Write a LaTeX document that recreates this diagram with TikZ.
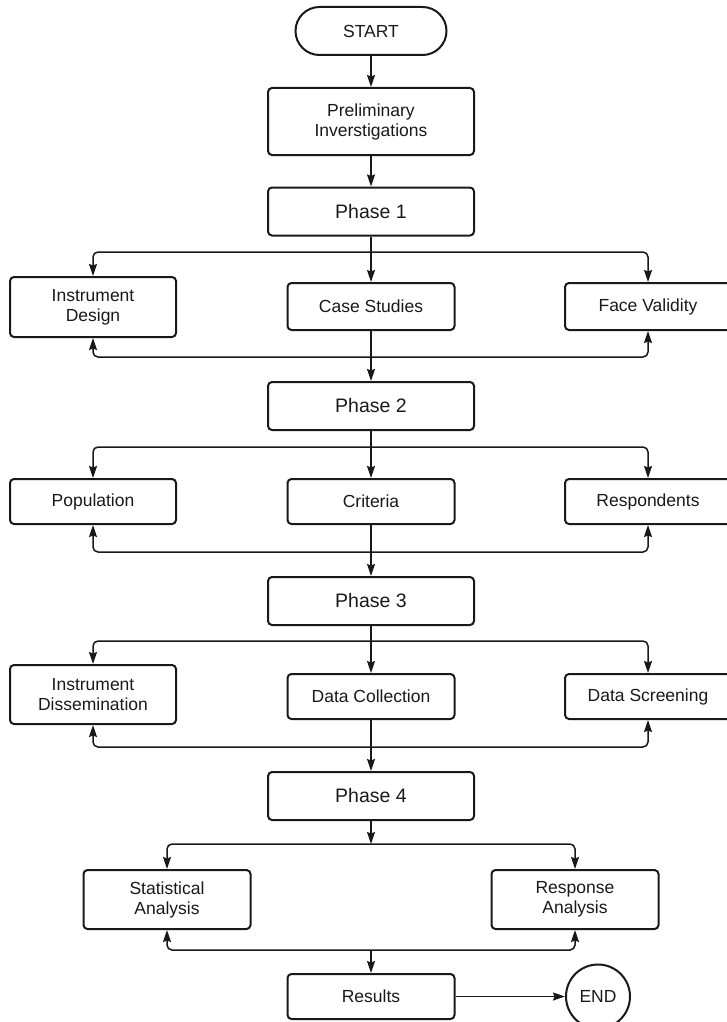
\documentclass[tikz,border=0pt]{standalone}
\usepackage{fontspec}
\setmainfont{Liberation Sans}
\usetikzlibrary{arrows.meta}
\begin{document}
\begin{tikzpicture}[x=1pt,y=-1pt,
  every node/.style={font=\fontsize{17.5}{20}\selectfont, text=black!90},
  box/.style={draw=black!90, line width=2pt, rounded corners=4pt, align=center, inner sep=0pt},
  midbox/.style={box, minimum width=167pt, minimum height=45pt},
  sidebox/.style={box, minimum width=166pt},
  phasebox/.style={box, minimum width=206pt, minimum height=48pt, font=\fontsize{19.5}{22}\selectfont},
  conn/.style={draw=black!90, line width=1.5pt, rounded corners=5pt, -{Stealth[length=12pt,width=8pt,inset=1.5pt]}}
]
\useasboundingbox (0,0) rectangle (726,1022);

\node[box, minimum width=151pt, minimum height=48pt, rounded corners=24pt] (start) at (371,31) {START};
\node[box, minimum width=206pt, minimum height=67pt] (prelim) at (371,121.5) {Preliminary\\Inverstigations};
\node[phasebox] (ph1) at (371,211.5) {Phase 1};

\node[sidebox, minimum height=60pt] (id) at (93,307) {Instrument\\Design};
\node[midbox, minimum height=47pt] (cs) at (371,306.5) {Case Studies};
\node[sidebox, minimum height=47pt] (fv) at (648,306.5) {Face Validity};

\node[phasebox] (ph2) at (371,406) {Phase 2};

\node[sidebox, minimum height=45pt] (pop) at (93,501.5) {Population};
\node[midbox] (cri) at (371,501.5) {Criteria};
\node[sidebox, minimum height=45pt] (resp) at (648,501.5) {Respondents};

\node[phasebox] (ph3) at (371,601) {Phase 3};

\node[sidebox, minimum height=59pt] (idis) at (93,694.5) {Instrument\\Dissemination};
\node[midbox] (dc) at (371,696.5) {Data Collection};
\node[sidebox, minimum height=45pt] (ds) at (648,696.5) {Data Screening};

\node[phasebox] (ph4) at (371,796) {Phase 4};

\node[box, minimum width=167pt, minimum height=59pt] (sa) at (167,899.5) {Statistical\\Analysis};
\node[box, minimum width=167pt, minimum height=59pt] (ra) at (575,899.5) {Response\\Analysis};

\node[midbox] (results) at (371,996.5) {Results};
\node[draw=black!90, line width=2pt, circle, minimum size=64pt, inner sep=0pt] (end) at (598,996.5) {END};

% coordinates for branch / return lines
\coordinate (b1) at (371,252);
\coordinate (r1) at (371,357);
\coordinate (b2) at (371,447);
\coordinate (r2) at (371,552);
\coordinate (b3) at (371,641);
\coordinate (r3) at (371,747);
\coordinate (b4) at (371,844);
\coordinate (r4) at (371,950);

\draw[conn] (start) -- (prelim);
\draw[conn] (prelim) -- (ph1);

% Phase 1
\draw[conn] (ph1.south) -- (cs.north);
\draw[conn] (b1) -| (id.north);
\draw[conn] (b1) -| (fv.north);
\draw[conn] (r1) -| (id.south);
\draw[conn] (r1) -| (fv.south);
\draw[conn] (cs.south) -- (ph2.north);

% Phase 2
\draw[conn] (ph2.south) -- (cri.north);
\draw[conn] (b2) -| (pop.north);
\draw[conn] (b2) -| (resp.north);
\draw[conn] (r2) -| (pop.south);
\draw[conn] (r2) -| (resp.south);
\draw[conn] (cri.south) -- (ph3.north);

% Phase 3
\draw[conn] (ph3.south) -- (dc.north);
\draw[conn] (b3) -| (idis.north);
\draw[conn] (b3) -| (ds.north);
\draw[conn] (r3) -| (idis.south);
\draw[conn] (r3) -| (ds.south);
\draw[conn] (dc.south) -- (ph4.north);

% Phase 4
\draw[conn] (ph4.south) -- (b4);
\draw[conn] (b4) -| (sa.north);
\draw[conn] (b4) -| (ra.north);
\draw[conn] (r4) -| (sa.south);
\draw[conn] (r4) -| (ra.south);
\draw[conn] (r4) -- (results.north);

\draw[conn] (results.east) -- (end.west);
\end{tikzpicture}
\end{document}
